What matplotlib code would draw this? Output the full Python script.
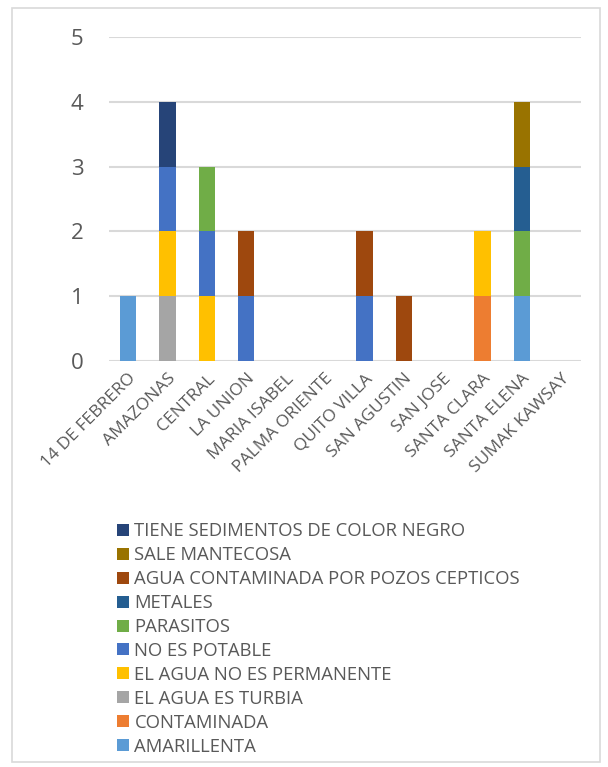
import numpy as np
import matplotlib.pyplot as plt
from matplotlib.patches import Rectangle

plt.rcParams['font.family'] = ['Open Sans', 'DejaVu Sans']

comunidades = ['14 DE FEBRERO', 'AMAZONAS', 'CENTRAL', 'LA UNION', 'MARIA ISABEL',
               'PALMA ORIENTE', 'QUITO VILLA', 'SAN AGUSTIN', 'SAN JOSE',
               'SANTA CLARA', 'SANTA ELENA', 'SUMAK KAWSAY']

# series, bottom of the stack first
amarillenta     = [1, 0, 0, 0, 0, 0, 0, 0, 0, 0, 1, 0]
contaminada     = [0, 0, 0, 0, 0, 0, 0, 0, 0, 1, 0, 0]
turbia          = [0, 1, 0, 0, 0, 0, 0, 0, 0, 0, 0, 0]
no_permanente   = [0, 1, 1, 0, 0, 0, 0, 0, 0, 1, 0, 0]
no_potable      = [0, 1, 1, 1, 0, 0, 1, 0, 0, 0, 0, 0]
parasitos       = [0, 0, 1, 0, 0, 0, 0, 0, 0, 0, 1, 0]
metales         = [0, 0, 0, 0, 0, 0, 0, 0, 0, 0, 1, 0]
pozos_cepticos  = [0, 0, 0, 1, 0, 0, 1, 1, 0, 0, 0, 0]
mantecosa       = [0, 0, 0, 0, 0, 0, 0, 0, 0, 0, 1, 0]
sedimentos      = [0, 1, 0, 0, 0, 0, 0, 0, 0, 0, 0, 0]

series = [
    ('AMARILLENTA', amarillenta, '#5B9BD5'),
    ('CONTAMINADA', contaminada, '#ED7D31'),
    ('EL AGUA ES TURBIA', turbia, '#A5A5A5'),
    ('EL AGUA NO ES PERMANENTE', no_permanente, '#FFC000'),
    ('NO ES POTABLE', no_potable, '#4472C4'),
    ('PARASITOS', parasitos, '#70AD47'),
    ('METALES', metales, '#255E91'),
    ('AGUA CONTAMINADA POR POZOS CEPTICOS', pozos_cepticos, '#9E480E'),
    ('SALE MANTECOSA', mantecosa, '#997300'),
    ('TIENE SEDIMENTOS DE COLOR NEGRO', sedimentos, '#264478'),
]

txt = '#595959'

fig = plt.figure(figsize=(6.08, 7.67), dpi=100)
fig.patches.append(Rectangle((12 / 608, 1 - 762 / 767), 588 / 608, 754 / 767,
                             transform=fig.transFigure, fill=False,
                             edgecolor='#D9D9D9', linewidth=1.2))

ax = fig.add_axes([108.5 / 608, 1 - 361 / 767, 472.5 / 608, 324 / 767])
x = np.arange(len(comunidades))
bottom = np.zeros(len(comunidades))
handles = []
for name, vals, col in series:
    vals = np.array(vals, dtype=float)
    b = ax.bar(x, vals, 0.41, bottom=bottom, color=col, label=name, zorder=3)
    handles.append(b)
    bottom += vals

ax.set_ylim(0, 5)
ax.set_xlim(-0.5, len(comunidades) - 0.5)
ax.set_yticks(range(6))
ax.yaxis.grid(True, color='#D9D9D9', linewidth=1.5, zorder=0)
for s in ax.spines.values():
    s.set_visible(False)
ax.tick_params(length=0, colors=txt)
ax.tick_params(axis='y', pad=18, labelsize=16)
ax.set_xticks(x)
ax.set_xticklabels(comunidades, rotation=45, ha='right', rotation_mode='anchor',
                   fontsize=12.5)
ax.tick_params(axis='x', pad=7)

leg = fig.legend(handles[::-1], [s[0] for s in series][::-1],
                 loc='upper left', bbox_to_anchor=(110 / 608, 1 - 515 / 767),
                 frameon=False, fontsize=13.3, labelcolor=txt,
                 handlelength=0.62, handleheight=0.62, handletextpad=0.3,
                 labelspacing=0.32, borderaxespad=0)

fig.savefig('out.png', dpi=100)
